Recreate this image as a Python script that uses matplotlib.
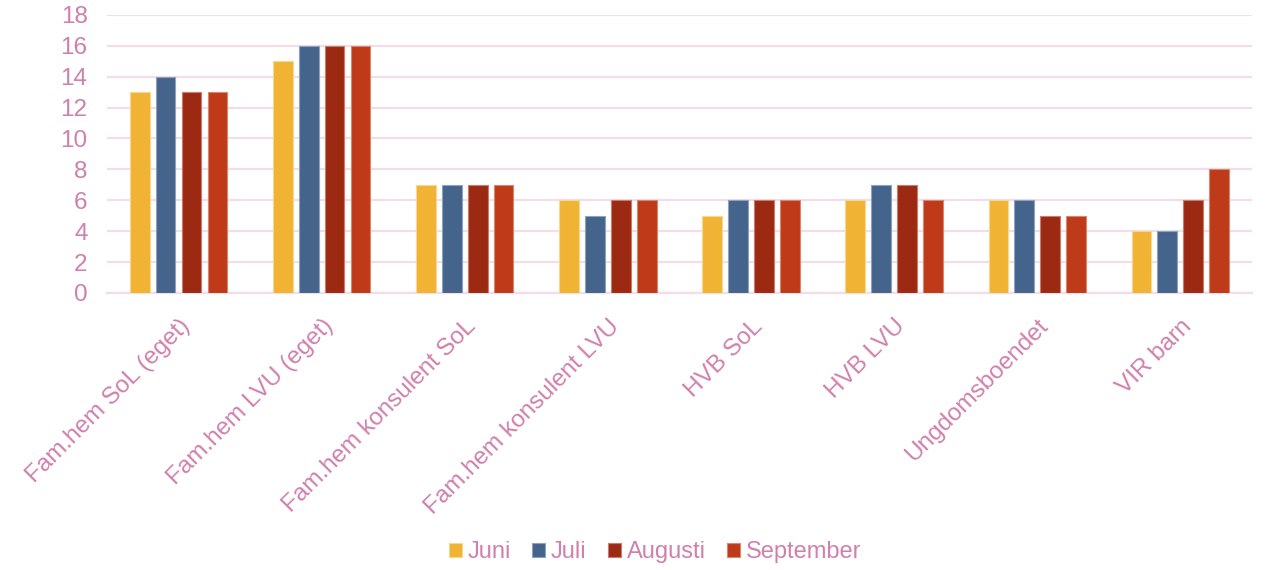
import matplotlib.pyplot as plt
import numpy as np

categories = ['Fam.hem SoL (eget)', 'Fam.hem LVU (eget)', 'Fam.hem konsulent SoL',
              'Fam.hem konsulent LVU', 'HVB SoL', 'HVB LVU', 'Ungdomsboendet', 'VIR barn']
months = ['Juni', 'Juli', 'Augusti', 'September']
juni = [13, 15, 7, 6, 5, 6, 6, 4]
juli = [14, 16, 7, 5, 6, 7, 6, 4]
augusti = [13, 16, 7, 6, 6, 7, 5, 6]
september = [13, 16, 7, 6, 6, 6, 5, 8]
colors = ['#F0B334', '#44648C', '#9C2A13', '#BE3A18']
edges = ['#F8D88F', '#8CA2BE', '#C97B6C', '#D98670']

TEXT = '#D080AC'
GRID = '#F2DDE9'

plt.rcParams['font.family'] = ['Liberation Sans', 'DejaVu Sans']

fig = plt.figure(figsize=(12.67, 5.7), dpi=100)
ax = fig.add_axes([0.0845, 0.486, 0.9035, 0.488])

x = np.arange(len(categories))
width = 0.137
step = 0.181
series = [juni, juli, augusti, september]
for i, (vals, name) in enumerate(zip(series, months)):
    ax.bar(x + (i - 1.5) * step, vals, width, color=colors[i], edgecolor=edges[i],
           linewidth=0.8, label=name, zorder=3)

ax.set_xlim(-0.5, len(categories) - 0.5)
ax.set_ylim(0, 18)
ax.set_yticks(range(0, 19, 2))
ax.yaxis.grid(True, color=GRID, linewidth=1.6, zorder=0)
ax.set_axisbelow(True)
for s in ['top', 'right', 'left']:
    ax.spines[s].set_visible(False)
ax.spines['bottom'].set_color(GRID)
ax.spines['bottom'].set_linewidth(1.6)
ax.tick_params(axis='both', length=0, colors=TEXT, labelsize=17.5)
ax.tick_params(axis='y', pad=14)
ax.set_xticks(x)
ax.set_xticklabels(categories, rotation=45, ha='right', va='top', rotation_mode='anchor')
ax.tick_params(axis='x', pad=16)

leg = fig.legend(loc='center', bbox_to_anchor=(0.517, 0.031), ncol=4, frameon=False,
                 fontsize=17, handlelength=0.55, handleheight=0.55, handletextpad=0.25,
                 columnspacing=0.9)
for t in leg.get_texts():
    t.set_color(TEXT)

fig.savefig('out.png', dpi=100)
